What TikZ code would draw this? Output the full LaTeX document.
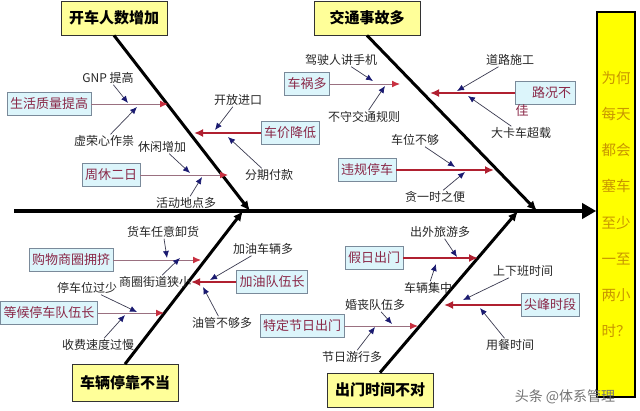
\documentclass[tikz,border=0pt]{standalone}
\usepackage{fontspec}
\newfontfamily\cjk{Noto Sans CJK SC}
\usetikzlibrary{arrows.meta}
\definecolor{catfill}{HTML}{FFFF99}
\definecolor{goalfill}{HTML}{FFFF00}
\definecolor{goaltext}{HTML}{C89600}
\definecolor{causefill}{HTML}{DCF5FB}
\definecolor{causeborder}{HTML}{7A8A9A}
\definecolor{causetext}{HTML}{8A2848}
\definecolor{majorred}{HTML}{B02030}
\definecolor{minorline}{HTML}{9A7080}
\definecolor{minorhead}{HTML}{C83040}
\definecolor{hintline}{HTML}{3A3A50}
\definecolor{hinthead}{HTML}{1A1A70}
\tikzset{
  cat/.style    = {draw=black!80, fill=catfill, line width=0.8pt, inner sep=2pt,
                   minimum width=106pt, minimum height=34pt,
                   font=\cjk\bfseries\fontsize{15}{17}\selectfont},
  goal/.style   = {draw=black, fill=goalfill, line width=1.6pt, align=center,
                   minimum width=38pt, minimum height=385pt, text=goaltext,
                   font=\cjk\fontsize{14.5}{36.2}\selectfont},
  cause/.style  = {draw=causeborder, fill=causefill, line width=0.6pt, inner sep=3pt,
                   minimum height=23pt, text=causetext,
                   font=\cjk\fontsize{13}{15}\selectfont},
  note/.style   = {inner sep=1pt, text=black!85, font=\cjk\fontsize{12}{14}\selectfont},
  spine/.style  = {line width=4pt, -{Triangle[length=14pt,width=15pt]}},
  bone/.style   = {line width=3pt, -{Latex[length=10pt,width=9pt]}},
  major/.style  = {line width=2.6pt, draw=majorred, -{Latex[length=9pt,width=8pt]}},
  minor/.style  = {line width=1pt, draw=minorline, -{Latex[length=8pt,width=7pt,color=minorhead]}},
  hint/.style   = {line width=0.7pt, draw=hintline, -{Latex[length=7pt,width=6pt,color=hinthead]}},
}

\begin{document}
\begin{tikzpicture}[x=1pt, y=-1pt]
\useasboundingbox (0,0) rectangle (640,410);

%% --- head and spine ------------------------------------------------------
\node[goal] (goal) at (616,204.5)
  {为何\\每天\\都会\\塞车\\至少\\一至\\两小\\时？};
\coordinate (tail) at (14,211);
\draw[spine] (tail) -- (tail -| goal.west);

%% =====================================================================
%% Main bones
%% =====================================================================
\node[cat] (cat1) at (114,18)  {开车人数增加};
\node[cat] (cat2) at (367,18)  {交通事故多};
\node[cat, minimum height=37pt] (cat3) at (125,383) {车辆停靠不当};
\node[cat] (cat4) at (380,390) {出门时间不对};

\coordinate (j1) at (250,211);
\coordinate (j2) at (537,211);
\coordinate (j3) at (243,211);
\coordinate (j4) at (518,211);

\draw[bone] (cat1.south) -- (j1);
\draw[bone] (cat2.south) -- (j2);
\draw[bone] (cat3.north) -- (j3);
\draw[bone] (cat4.north) -- (j4);

%% =====================================================================
%% 开车人数增加
%% =====================================================================
\node[cause] (shzl) at (49,104)   {生活质量提高};
\node[cause] (cjjd) at (290,133)  {车价降低};
\node[cause] (zxer) at (111,175)  {周休二日};
\coordinate (t11) at (168,104);
\coordinate (t12) at (194,133);
\coordinate (t13) at (228,175);
\draw[minor] (shzl) -- (t11);
\draw[major] (cjjd) -- (t12);
\draw[minor] (zxer) -- (t13);

\node[note] (gnp)  at (108,78)  {GNP 提高};
\node[note] (xrx)  at (104,141) {虚荣心作祟};
\node[note] (kfjk) at (238,100) {开放进口};
\node[note] (fqfk) at (269,175) {分期付款};
\node[note] (xxzj) at (162,147) {休闲增加};
\node[note] (hddd) at (186,203) {活动地点多};
\coordinate (gnp-e)  at (128,103);
\coordinate (xrx-e)  at (137,107);
\coordinate (kfjk-e) at (215,130);
\coordinate (fqfk-e) at (228,137);
\coordinate (xxzj-e) at (190,173);
\coordinate (hddd-e) at (202,177);
\draw[hint] (gnp)  -- (gnp-e);
\draw[hint] (xrx)  -- (xrx-e);
\draw[hint] (kfjk) -- (kfjk-e);
\draw[hint] (fqfk) -- (fqfk-e);
\draw[hint] (xxzj) -- (xxzj-e);
\draw[hint] (hddd) -- (hddd-e);

%% =====================================================================
%% 交通事故多
%% =====================================================================
\node[cause] (chd)  at (307,84)  {车祸多};
\node[cause, minimum width=60pt] (lkbj) at (545,93) {\phantom{佳}路况不};
\node[note, text=causetext, font=\cjk\fontsize{13}{15}\selectfont] (lkbj-b) at (522,111) {佳};
\node[cause] (wgtc) at (367,170) {违规停车};
\coordinate (t21) at (400,84);
\coordinate (t22) at (430,93);
\coordinate (t23) at (494,170);
\draw[minor] (chd)  -- (t21);
\draw[major] (lkbj) -- (t22);
\draw[major] (wgtc) -- (t23);

\node[note] (jsr)  at (341,60)  {驾驶人讲手机};
\node[note] (bsjt) at (364,117) {不守交通规则};
\node[note] (dlsg) at (510,60)  {道路施工};
\node[note] (dkc)  at (521,133) {大卡车超载};
\node[note] (cwbg) at (415,140) {车位不够};
\node[note] (tysb) at (435,197) {贪一时之便};
\coordinate (jsr-e)  at (373,81);
\coordinate (bsjt-e) at (385,86);
\coordinate (dlsg-e) at (457,91);
\coordinate (dkc-e)  at (468,96);
\coordinate (cwbg-e) at (455,167);
\coordinate (tysb-e) at (465,172);
\draw[hint] (jsr)  -- (jsr-e);
\draw[hint] (bsjt) -- (bsjt-e);
\draw[hint] (dlsg) -- (dlsg-e);
\draw[hint] (dkc)  -- (dkc-e);
\draw[hint] (cwbg) -- (cwbg-e);
\draw[hint] (tysb) -- (tysb-e);

%% =====================================================================
%% 车辆停靠不当
%% =====================================================================
\node[cause] (gwsq) at (71,260)  {购物商圈拥挤};
\node[cause] (jydw) at (272,282) {加油队伍长};
\node[cause] (dhtc) at (49,313)  {等候停车队伍长};
\coordinate (t31) at (201,260);
\coordinate (t32) at (191,282);
\coordinate (t33) at (164,313);
\draw[minor] (gwsq) -- (t31);
\draw[major] (jydw) -- (t32);
\draw[minor] (dhtc) -- (t33);

\node[note] (hcry) at (163,232) {货车任意卸货};
\node[note] (sqjd) at (155,282) {商圈街道狭小};
\node[note] (jycl) at (263,249) {加油车辆多};
\node[note] (ygbg) at (222,323) {油管不够多};
\node[note] (tcwg) at (87,288)  {停车位过少};
\node[note] (sfsd) at (98,345)  {收费速度过慢};
\coordinate (hcry-e) at (167,258);
\coordinate (sqjd-e) at (180,258);
\coordinate (jycl-e) at (210,280);
\coordinate (ygbg-e) at (203,287);
\coordinate (tcwg-e) at (137,312);
\coordinate (sfsd-e) at (125,315);
\draw[hint] (hcry) -- (hcry-e);
\draw[hint] (sqjd) -- (sqjd-e);
\draw[hint] (jycl) -- (jycl-e);
\draw[hint] (ygbg) -- (ygbg-e);
\draw[hint] (tcwg) -- (tcwg-e);
\draw[hint] (sfsd) -- (sfsd-e);

%% =====================================================================
%% 出门时间不对
%% =====================================================================
\node[cause] (jrcm) at (374,258) {假日出门};
\node[cause] (jfsd) at (550,305) {尖峰时段};
\node[cause] (tdjr) at (302,326) {特定节日出门};
\coordinate (t41) at (478,258);
\coordinate (t42) at (444,305);
\coordinate (t43) at (418,326);
\draw[major] (jrcm) -- (t41);
\draw[major] (jfsd) -- (t42);
\draw[minor] (tdjr) -- (t43);

\node[note] (cwly) at (440,232) {出外旅游多};
\node[note] (cljz) at (428,288) {车辆集中};
\node[note] (sxb)  at (523,271) {上下班时间};
\node[note] (ycsj) at (510,345) {用餐时间};
\node[note] (hsdw) at (375,305) {婚丧队伍多};
\node[note] (jryx) at (352,357) {节日游行多};
\coordinate (cwly-e) at (457,257);
\coordinate (cljz-e) at (436,264);
\coordinate (sxb-e)  at (463,300);
\coordinate (ycsj-e) at (480,308);
\coordinate (hsdw-e) at (392,324);
\coordinate (jryx-e) at (375,327);
\draw[hint] (cwly) -- (cwly-e);
\draw[hint] (cljz) -- (cljz-e);
\draw[hint] (sxb)  -- (sxb-e);
\draw[hint] (ycsj) -- (ycsj-e);
\draw[hint] (hsdw) -- (hsdw-e);
\draw[hint] (jryx) -- (jryx-e);

%% --- watermark ---------------------------------------------------------
\node[text=black!55, font=\cjk\fontsize{14}{16}\selectfont] (wm) at (565,397)
  {头条 @体系管理};

\end{tikzpicture}
\end{document}
